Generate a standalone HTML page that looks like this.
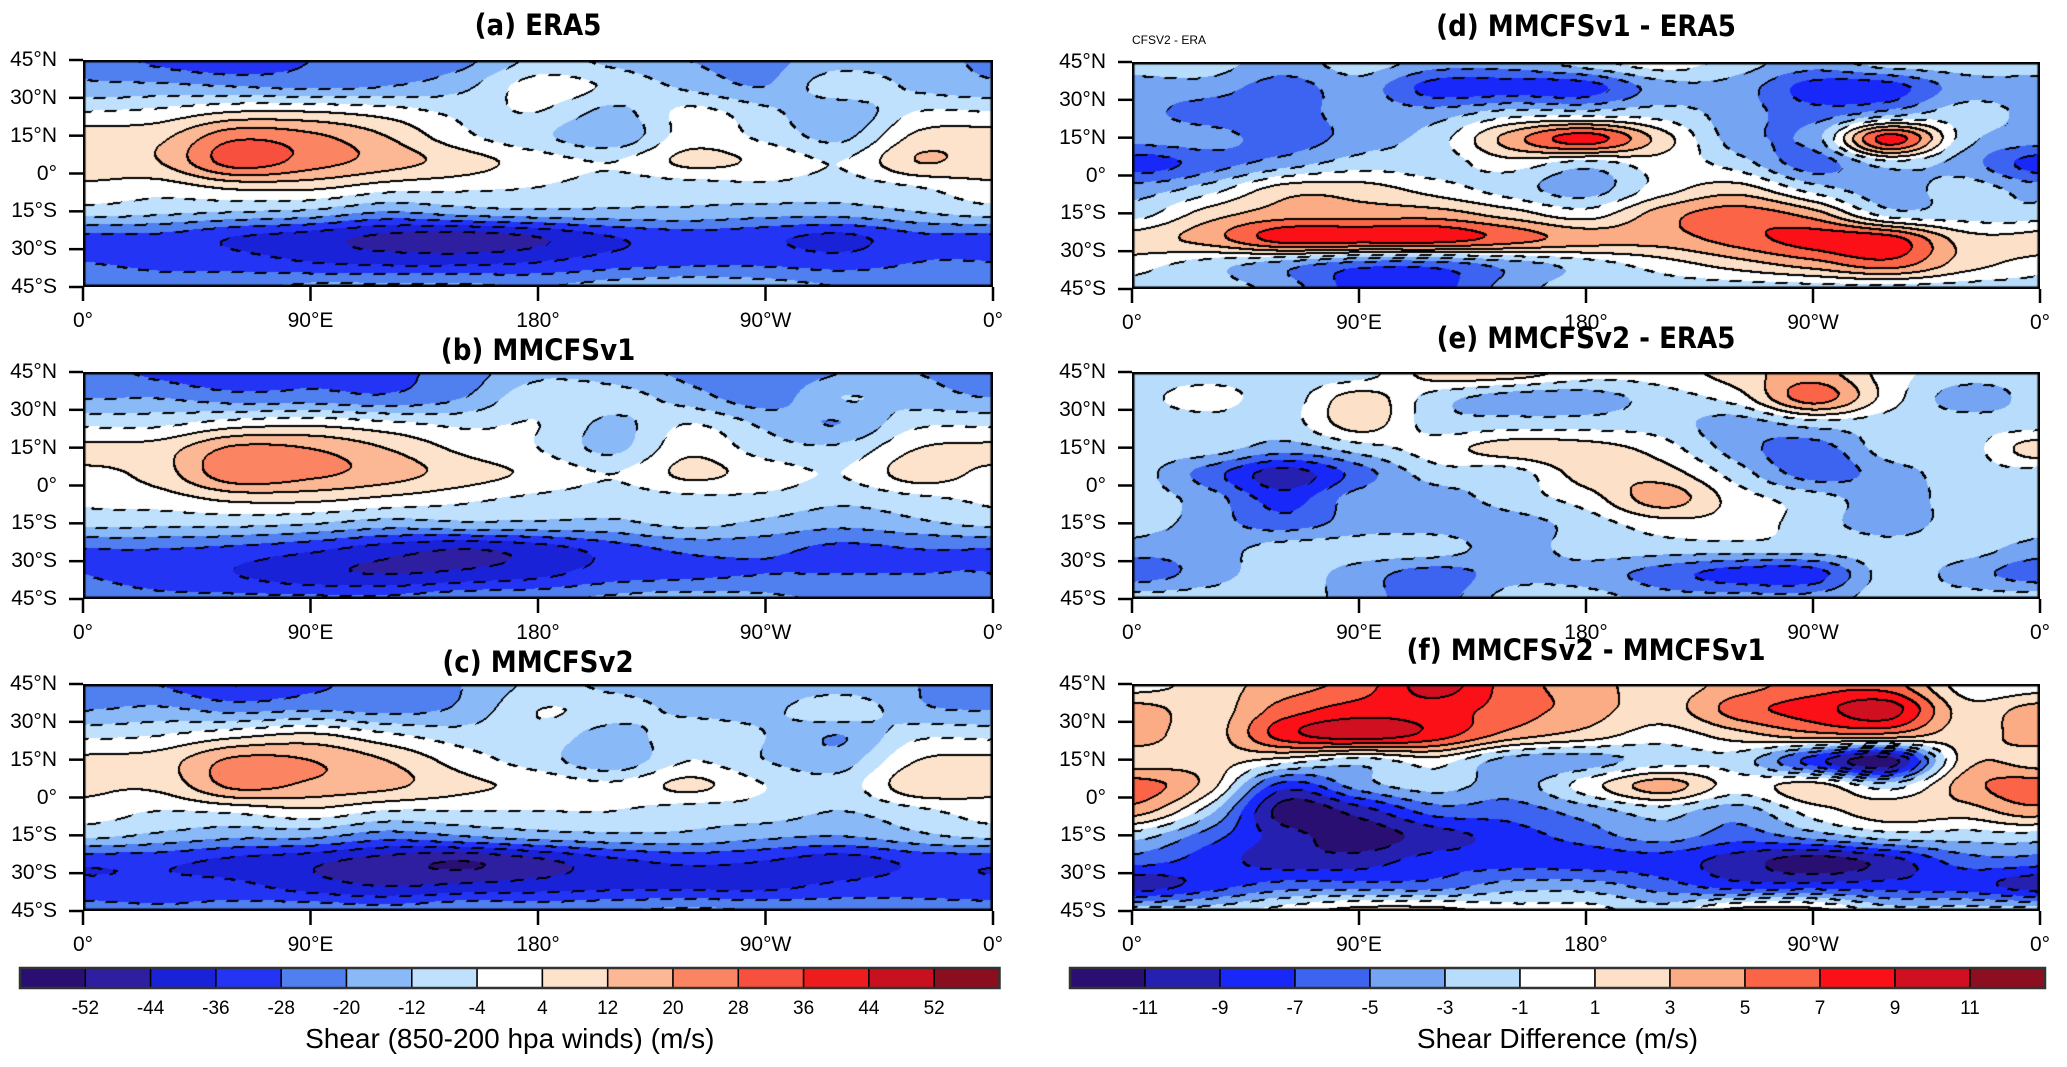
<!DOCTYPE html>
<html><head><meta charset="utf-8">
<style>
body{margin:0;background:#fff;width:2067px;height:1067px;overflow:hidden;position:relative;font-family:"Liberation Sans",Arial,sans-serif;}
.t{position:absolute;white-space:nowrap;color:#000}
.title{font-weight:bold;font-size:29px;transform:translate(-50%,-50%);font-family:"DejaVu Sans Condensed","DejaVu Sans","Liberation Sans",sans-serif;}
.lat{font-size:21px;text-align:right;width:70px;transform:translateY(-50%)}
.lon{font-size:21px;transform:translateX(-50%)}
.cb{font-size:19px;transform:translateX(-50%)}
canvas{position:absolute}
</style></head>
<body>
<div id="root"></div>
<script>
// ---- data: grid rows lat 45,35,...,-45 ; cols lon 0,30,...,360 ----
const lats=[45,35,25,15,5,-5,-15,-25,-35,-45];
const lons=[0,30,60,90,120,150,180,210,240,270,300,330,360];
const era5=[
[-22,-30,-34,-28,-26,-22,-10,-14,-20,-22,-16,-18,-22],
[-18,-18,-20,-22,-20,-14,0,-6,-14,-20,-6,-14,-18],
[-4,-2,4,4,0,-6,-4,-14,-2,-10,-18,-4,-4],
[8,10,26,22,12,-2,-10,-18,0,-6,-14,6,8],
[8,12,32,24,16,8,0,-4,6,2,-4,12,8],
[2,0,6,6,0,-2,-4,-8,-8,-6,-8,-4,2],
[-8,-10,-12,-14,-20,-16,-14,-14,-14,-16,-16,-12,-8],
[-30,-30,-36,-40,-46,-48,-44,-36,-32,-34,-38,-30,-30],
[-28,-30,-32,-36,-38,-38,-36,-32,-30,-30,-32,-28,-28],
[-22,-24,-22,-18,-18,-18,-20,-16,-14,-16,-20,-22,-22]];
const mmcfsv1=[
[-24,-30,-34,-30,-30,-24,-14,-16,-22,-26,-20,-20,-24],
[-20,-20,-24,-24,-26,-20,-6,-8,-16,-24,-12,-16,-20],
[-6,-6,0,2,-2,-6,-4,-14,-4,-14,-20,-6,-6],
[6,8,22,20,12,2,-4,-14,2,-8,-10,4,6],
[2,8,26,22,16,8,2,-4,6,0,-4,8,2],
[-2,0,6,6,2,-2,-6,-8,-6,-6,-10,-6,-2],
[-10,-10,-10,-12,-16,-14,-14,-14,-10,-14,-18,-14,-10],
[-28,-28,-30,-34,-40,-44,-40,-32,-26,-26,-30,-28,-28],
[-28,-32,-36,-42,-44,-42,-38,-32,-30,-28,-28,-28,-28],
[-24,-26,-26,-26,-26,-22,-22,-18,-16,-18,-22,-24,-24]];
const mmcfsv2=[
[-24,-28,-36,-30,-24,-20,-10,-14,-16,-18,-16,-20,-24],
[-20,-18,-22,-20,-22,-18,-4,-8,-14,-14,-6,-18,-20],
[-6,-4,2,6,-2,-8,-6,-16,-6,-12,-20,-6,-6],
[6,8,22,20,12,0,-8,-18,-4,-12,-16,4,6],
[6,6,22,18,14,6,2,-2,6,-4,-8,10,6],
[0,-4,-2,2,-4,-4,-4,-4,-8,-8,-12,-6,0],
[-10,-14,-18,-18,-24,-20,-16,-14,-14,-18,-20,-14,-10],
[-34,-34,-38,-42,-48,-52,-46,-38,-34,-36,-40,-34,-34],
[-34,-34,-34,-40,-44,-42,-40,-38,-38,-38,-34,-32,-34],
[-24,-26,-24,-22,-24,-20,-22,-20,-18,-20,-22,-24,-24]];
const diffD=[
[-2,-2,-4,-2,-4,-4,-2,0,-2,-4,-2,-2,-2],
[-4,-4,-6,-4,-8,-8,-8,-4,-4,-8,-8,-4,-4],
[-4,-6,-6,-4,-4,-2,-2,-2,-4,-6,-4,-2,-4],
[-4,-4,-6,-4,-2,4,8,2,-4,-4,8,-2,-4],
[-8,-6,-4,-2,-2,0,-2,0,-2,-6,-2,-4,-8],
[-4,-2,2,2,0,-2,-4,0,2,-2,-4,-2,-4],
[-2,2,4,4,4,2,0,4,6,4,-2,-2,-2],
[2,4,8,8,8,6,4,4,6,8,8,2,2],
[0,-2,-4,-6,-6,-4,-2,0,2,4,6,2,0],
[-2,-2,-4,-8,-8,-4,-2,-2,-2,-2,-2,-2,-2]];
const diffE=[
[-2,-2,-2,-2,2,2,0,0,2,4,0,-2,-2],
[-2,0,-2,2,-2,-4,-4,-2,0,6,0,-4,-2],
[-2,-2,-2,2,-2,-2,-2,-2,-4,-2,-2,-2,-2],
[-2,-2,-4,-2,0,2,2,0,-4,-6,-2,-2,2],
[-2,-6,-10,-6,-2,-2,2,2,-2,-6,-4,-2,-2],
[-2,-4,-8,-4,-4,-2,0,4,0,-2,-4,-2,-2],
[-2,-4,-6,-4,-4,-4,-2,0,0,-2,-4,-2,-2],
[-4,-4,-2,-2,-2,-4,-2,-2,-2,-2,-2,-2,-4],
[-6,-4,-2,-4,-6,-4,-4,-6,-8,-8,-2,-4,-6],
[-2,-2,-2,-4,-6,-2,-2,-4,-4,-4,-2,-2,-2]];
const diffF=[
[0,2,4,6,10,6,4,2,4,6,6,0,0],
[4,2,6,8,8,6,4,2,6,8,10,2,4],
[4,2,8,10,8,4,2,0,2,4,4,2,4],
[2,2,0,-2,0,-4,-4,-2,-2,-8,-12,2,2],
[6,2,-8,-4,-2,-4,0,4,0,2,-2,4,6],
[4,-2,-12,-10,-6,-6,-4,-2,-4,0,2,2,4],
[-2,-6,-10,-12,-10,-8,-6,-4,-6,-4,-2,-2,-2],
[-6,-8,-10,-10,-8,-8,-8,-8,-10,-12,-10,-6,-6],
[-10,-8,-6,-6,-6,-4,-4,-6,-8,-8,-8,-8,-10],
[-2,-2,0,2,2,0,0,-2,2,2,-2,-2,-2]];
const absLevels=[-52,-44,-36,-28,-20,-12,-4,4,12,20,28,36,44,52];
const absColors=["#2a0f72","#2e1ea0","#1a22d8","#2334f4","#5080f0","#8ab9f8","#bfe1fd","#ffffff","#fde3cb","#fcb894","#fb8462","#f8503e","#ee1c1c","#c8101e","#8a0e1e"];
const difLevels=[-11,-9,-7,-5,-3,-1,1,3,5,7,9,11];
const difColors=["#2a0f72","#2520b0","#1828f8","#3d64f0","#74a4f2","#b8dcfc","#ffffff","#fde0c8","#fcac84","#fc6448","#fc1018","#d01020","#8c0e20"];
const latTicks=["45°N","30°N","15°N","0°","15°S","30°S","45°S"];
const lonTicks=["0°","90°E","180°","90°W","0°"];
const absTicks=["-52","-44","-36","-28","-20","-12","-4","4","12","20","28","36","44","52"];
const difTicks=["-11","-9","-7","-5","-3","-1","1","3","5","7","9","11"];

const root=document.getElementById('root');
function txt(cls,s,x,y,name){const d=document.createElement('div');d.className='t '+cls;d.textContent=s;d.style.left=x+'px';d.style.top=y+'px';


root.appendChild(d);return d;}

function cr(p0,p1,p2,p3,t){return p1+0.5*t*(p2-p0+t*(2*p0-5*p1+4*p2-p3+t*(3*(p1-p2)+p3-p0)));}
function sample(g,r,c){
 const R=lats.length, C=lons.length;
 const ri=Math.floor(r), ci=Math.floor(c), tr=r-ri, tc=c-ci;
 const gr=i=>Math.max(0,Math.min(R-1,i));
 const gc=j=>{ if(j<0) j+=C-1; if(j>C-1) j-=C-1; return j;};
 const rows=[];
 for(let a=-1;a<=2;a++){const rr=g[gr(ri+a)];rows.push(cr(rr[gc(ci-1)],rr[gc(ci)],rr[gc(ci+1)],rr[gc(ci+2)],tc));}
 return cr(rows[0],rows[1],rows[2],rows[3],tr);
}
function lvl(v,levels){let k=0;while(k<levels.length&&v>=levels[k])k++;return k;}
function hex(h){return [parseInt(h.slice(1,3),16),parseInt(h.slice(3,5),16),parseInt(h.slice(5,7),16)];}

function panel(x,y,w,h,grid,levels,colors,title,letter,titleGap){
 const cv=document.createElement('canvas');cv.width=w;cv.height=h;cv.style.left=x+'px';cv.style.top=y+'px';
 
 
 root.appendChild(cv);
 const ctx=cv.getContext('2d');const img=ctx.createImageData(w,h);
 const cols=colors.map(hex);
 const idx=new Int8Array(w*h);
 const latScale=(lats.length-1)/(lats[0]-lats[lats.length-1]);
 const lonScale=(lons.length-1)/(lons[lons.length-1]-lons[0]);
 for(let j=0;j<h;j++){const lat=45-90*j/(h-1);const r=(lats[0]-lat)*latScale;
  for(let i=0;i<w;i++){const lon=360*i/(w-1);const c=(lon-lons[0])*lonScale;
   const v=sample(grid,r,Math.min(c,lons.length-1.0001));idx[j*w+i]=lvl(v,levels);}}
 for(let j=0;j<h;j++)for(let i=0;i<w;i++){const p=j*w+i;let col=cols[idx[p]];
  let edge=false,neg=false;
  if(i>0&&idx[p-1]!==idx[p]){edge=true;neg=levels[Math.min(idx[p],idx[p-1])]<0;}
  if(j>0&&idx[p-w]!==idx[p]){edge=true;neg=levels[Math.min(idx[p],idx[p-w])]<0;}
  if(i>1&&idx[p-2]!==idx[p-1]&&!edge){edge=true;neg=levels[Math.min(idx[p-1],idx[p-2])]<0;}
  if(j>1&&idx[p-2*w]!==idx[p-w]&&!edge){edge=true;neg=levels[Math.min(idx[p-w],idx[p-2*w])]<0;}
  if(edge){ if(!neg || ((((i+j)/12)|0)%2)===0) col=[0,0,0];}
  img.data[p*4]=col[0];img.data[p*4+1]=col[1];img.data[p*4+2]=col[2];img.data[p*4+3]=255;}
 ctx.putImageData(img,0,0);
 ctx.strokeStyle='#000';ctx.lineWidth=3;ctx.strokeRect(1,1,w-2,h-2);
 const sv=document.createElementNS('http://www.w3.org/2000/svg','svg');
 sv.setAttribute('width',w+40);sv.setAttribute('height',h+40);
 sv.style.position='absolute';sv.style.left=(x-20)+'px';sv.style.top=(y-10)+'px';sv.style.overflow='visible';
 
 
 let s='';
 for(let k=0;k<7;k++){const yy=10+k*h/6;s+=`<line x1="6" x2="20" y1="${yy}" y2="${yy}" stroke="#000" stroke-width="2.5"/>`;}
 for(let k=0;k<5;k++){const xx=20+k*w/4;s+=`<line x1="${xx}" x2="${xx}" y1="${10+h}" y2="${10+h+14}" stroke="#000" stroke-width="2.5"/>`;}
 sv.innerHTML=s;root.appendChild(sv);
 latTicks.forEach((t,k)=>txt('lat',t,x-96,y+k*h/6,'lat-label-'+letter));
 lonTicks.forEach((t,k)=>txt('lon',t,x+k*w/4,y+h+22,'lon-label-'+letter));
 txt('title',title,x+w/2,y-titleGap,'title-'+letter);
}
function colorbar(x,y,bw,h,colors,ticks,label,name){
 const sv=document.createElementNS('http://www.w3.org/2000/svg','svg');
 const W=bw*colors.length;
 sv.setAttribute('width',W+4);sv.setAttribute('height',h+4);sv.style.position='absolute';sv.style.left=(x-2)+'px';sv.style.top=(y-2)+'px';
 
 
 let s='';colors.forEach((c,k)=>{s+=`<rect x="${2+k*bw}" y="2" width="${bw}" height="${h}" fill="${c}" stroke="#000" stroke-width="1.5"/>`;});
 s+=`<rect x="2" y="2" width="${W}" height="${h}" fill="none" stroke="#333" stroke-width="2.5"/>`;
 sv.innerHTML=s;root.appendChild(sv);
 ticks.forEach((t,k)=>txt('cb',t,x+(k+1)*bw,y+h+10,name+'-tick'));
 const d=txt('cbl',label,x+W/2,y+h+35,name+'-label');d.style.fontSize='28px';d.style.transform='translateX(-50%)';
}
const L=83,R=1132,W1=910,W2=908,H=227,tops=[60,372,684];
panel(L,tops[0],W1,H,era5,absLevels,absColors,'(a) ERA5','a',35);
panel(L,tops[1],W1,H,mmcfsv1,absLevels,absColors,'(b) MMCFSv1','b',22);
panel(L,tops[2],W1,H,mmcfsv2,absLevels,absColors,'(c) MMCFSv2','c',22);
panel(R,tops[0]+2,W2,H,diffD,difLevels,difColors,'(d) MMCFSv1 - ERA5','d',36);
panel(R,tops[1],W2,H,diffE,difLevels,difColors,'(e) MMCFSv2 - ERA5','e',34);
panel(R,tops[2],W2,H,diffF,difLevels,difColors,'(f) MMCFSv2 - MMCFSv1','f',34);
const sub=txt('sub','CFSV2 - ERA',1132,33,'subtitle-d');sub.style.fontSize='12px';
colorbar(20,968,65.3,20,absColors,absTicks,'Shear (850-200 hpa winds) (m/s)','colorbar-shear');
colorbar(1070,968,75,20,difColors,difTicks,'Shear Difference (m/s)','colorbar-diff');
</script>
</body></html>
